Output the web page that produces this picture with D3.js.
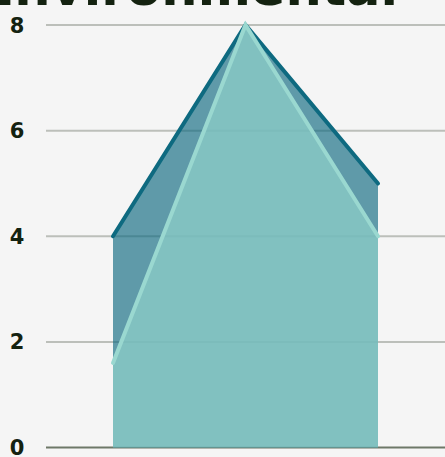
<!DOCTYPE html>
<html>
<head>
<meta charset="utf-8">
<script src="https://cdn.jsdelivr.net/npm/d3@7"></script>
<style>
  html, body { margin: 0; padding: 0; background: #f5f5f5; }
  svg { display: block; }
</style>
</head>
<body>
<svg id="chart" width="445" height="457"></svg>
<script>
const title = "Environmental"
const categories = ["A", "B", "C"]
const seriesDark = [4, 8, 5]
const seriesLight = [1.6, 8, 4]
const yTicks = [0, 2, 4, 6, 8]

const width = 445, height = 457
const svg = d3.select("#chart")

const x = d3.scalePoint()
  .domain(categories)
  .range([113, 378])

const y = d3.scaleLinear()
  .domain([0, 8])
  .range([447.5, 25])

// title, cut off at the top as in the original
svg.append("text")
  .attr("x", 398)
  .attr("y", 5)
  .attr("text-anchor", "end")
  .style("font-family", "'DejaVu Sans', sans-serif")
  .style("font-weight", 700)
  .style("font-size", "51px")
  .style("fill", "#142210")
  .text(title)

// gridlines
svg.append("g")
  .selectAll("line")
  .data(yTicks)
  .join("line")
  .attr("x1", 46)
  .attr("x2", width)
  .attr("y1", d => y(d))
  .attr("y2", d => y(d))
  .attr("stroke", d => d === 0 ? "#6e7868" : "#bcbfba")
  .attr("stroke-width", 2)

// tick labels
svg.append("g")
  .selectAll("text")
  .data(yTicks)
  .join("text")
  .attr("x", 17)
  .attr("y", d => y(d))
  .attr("dy", "0.36em")
  .attr("text-anchor", "middle")
  .style("font-family", "'DejaVu Sans', sans-serif")
  .style("font-weight", 700)
  .style("font-size", "21px")
  .style("fill", "#142210")
  .text(d => d)

const area = d3.area()
  .x((d, i) => x(categories[i]))
  .y0(y(0))
  .y1(d => y(d))

const line = d3.line()
  .x((d, i) => x(categories[i]))
  .y(d => y(d))

svg.append("path")
  .datum(seriesDark)
  .attr("d", area)
  .attr("fill", "rgba(14,105,128,0.65)")

svg.append("path")
  .datum(seriesDark)
  .attr("d", line)
  .attr("fill", "none")
  .attr("stroke", "#0e6a80")
  .attr("stroke-width", 4)
  .attr("stroke-linecap", "round")

svg.append("path")
  .datum(seriesLight)
  .attr("d", area)
  .attr("fill", "rgba(140,205,200,0.75)")

svg.append("path")
  .datum(seriesLight)
  .attr("d", line)
  .attr("fill", "none")
  .attr("stroke", "#9ad8d0")
  .attr("stroke-width", 4)
  .attr("stroke-linecap", "round")
</script>
</body>
</html>
